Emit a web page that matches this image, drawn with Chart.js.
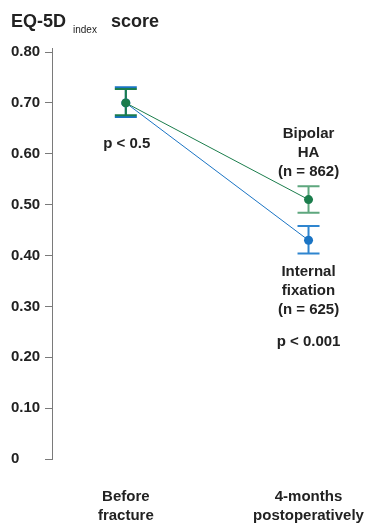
<!DOCTYPE html>
<html>
<head>
<meta charset="utf-8">
<script src="https://cdn.jsdelivr.net/npm/chart.js@4.4.1/dist/chart.umd.min.js"></script>
<style>
  html, body { margin: 0; padding: 0; background: #fff; }
  #wrap { position: relative; width: 383px; height: 525px; }
</style>
</head>
<body>
<div id="wrap"><canvas id="eqChart" width="383" height="525"></canvas></div>
<script>
// time points (x = 0, 1)
const timeLabels = [['Before', 'fracture'], ['4-months', 'postoperatively']];
const timeX = [0, 1];

// mean EQ-5D index, with error bar bounds
const bipolarMean = [0.70, 0.51];
const bipolarLow = [0.676, 0.484];
const bipolarHigh = [0.7275, 0.536];

const fixationMean = [0.70, 0.43];
const fixationLow = [0.6725, 0.404];
const fixationHigh = [0.731, 0.458];

const yTicks = [0, 0.1, 0.2, 0.3, 0.4, 0.5, 0.6, 0.7, 0.8];

const GREEN = '#1b7d4c';
const GREEN_ERR = '#5ea77e';
const BLUE = '#1a74c4';
const BLUE_ERR = '#2f85cf';
const FONT = '"Liberation Sans", Arial, Helvetica, sans-serif';

function toPoints(vals) {
    return vals.map((v, i) => ({ x: timeX[i], y: v }));
}

// error bars drawn under the points
const errorBars = {
    id: 'errorBars',
    beforeDatasetsDraw(chart) {
        const ctx = chart.ctx;
        const xs = chart.scales.x, ys = chart.scales.y;
        const sets = [
            { lo: fixationLow, hi: fixationHigh, color: [BLUE, BLUE_ERR] },
            { lo: bipolarLow, hi: bipolarHigh, color: [GREEN, GREEN_ERR] }
        ];
        ctx.save();
        ctx.lineWidth = 2;
        sets.forEach(s => {
            timeX.forEach((t, i) => {
                const px = xs.getPixelForValue(t);
                const top = ys.getPixelForValue(s.hi[i]);
                const bot = ys.getPixelForValue(s.lo[i]);
                ctx.strokeStyle = s.color[i];
                ctx.beginPath();
                ctx.moveTo(px, top); ctx.lineTo(px, bot);
                ctx.moveTo(px - 11, top); ctx.lineTo(px + 11, top);
                ctx.moveTo(px - 11, bot); ctx.lineTo(px + 11, bot);
                ctx.stroke();
            });
        });
        ctx.restore();
    }
};

// title and text annotations
const notes = {
    id: 'notes',
    afterDraw(chart) {
        const ctx = chart.ctx;
        const xs = chart.scales.x;
        ctx.save();
        ctx.fillStyle = '#222';
        ctx.textBaseline = 'alphabetic';

        // title: EQ-5D(index) score
        ctx.textAlign = 'left';
        ctx.font = 'bold 18px ' + FONT;
        ctx.fillText('EQ-5D', 11, 27);
        ctx.font = '10px ' + FONT;
        ctx.fillText('index', 73, 33);
        ctx.font = 'bold 18px ' + FONT;
        ctx.fillText('score', 111, 27);

        ctx.font = 'bold 15px ' + FONT;
        ctx.textAlign = 'center';
        ctx.textBaseline = 'middle';
        const x0 = xs.getPixelForValue(0);
        const x1 = xs.getPixelForValue(1);
        ctx.fillText('p < 0.5', x0 + 1, 144);

        const top = ['Bipolar', 'HA', '(n = 862)'];
        top.forEach((t, i) => ctx.fillText(t, x1, 134 + i * 19));
        const bot = ['Internal', 'fixation', '(n = 625)'];
        bot.forEach((t, i) => ctx.fillText(t, x1, 272 + i * 19));
        ctx.fillText('p < 0.001', x1, 342);
        ctx.restore();
    }
};

const config = {
    type: 'line',
    data: {
        datasets: [
            {
                label: 'Bipolar HA',
                data: toPoints(bipolarMean),
                borderColor: GREEN,
                backgroundColor: GREEN,
                borderWidth: 1,
                pointRadius: 4.5,
                pointBorderWidth: 0,
                order: 0
            },
            {
                label: 'Internal fixation',
                data: toPoints(fixationMean),
                borderColor: BLUE,
                backgroundColor: BLUE,
                borderWidth: 1,
                pointRadius: 4.5,
                pointBorderWidth: 0,
                order: 1
            }
        ]
    },
    options: {
        responsive: false,
        animation: false,
        layout: { padding: { top: 48, right: 0, left: 11, bottom: 0 } },
        plugins: {
            legend: { display: false },
            tooltip: { enabled: false }
        },
        scales: {
            x: {
                type: 'linear',
                min: -0.404,
                max: 1.383,
                afterBuildTicks: axis => { axis.ticks = timeX.map(v => ({ value: v })); },
                afterFit: axis => { axis.height = 66; },
                // invisible tick marks push the labels down without adding side padding
                grid: {
                    display: true,
                    drawOnChartArea: false,
                    drawTicks: true,
                    tickLength: 28,
                    color: 'rgba(0,0,0,0)'
                },
                border: { display: false },
                ticks: {
                    color: '#222',
                    padding: 0,
                    font: { family: FONT, size: 15, weight: 'bold', lineHeight: 1.3 },
                    callback: (v) => timeLabels[timeX.indexOf(v)]
                }
            },
            y: {
                min: 0,
                max: 0.808,
                afterBuildTicks: axis => { axis.ticks = yTicks.map(v => ({ value: v })); },
                afterFit: axis => { axis.width = 41; },
                grid: {
                    drawOnChartArea: false,
                    drawTicks: true,
                    tickLength: 7,
                    color: '#7a7a7a'
                },
                border: { display: true, color: '#7a7a7a', width: 1 },
                ticks: {
                    color: '#222',
                    crossAlign: 'far',
                    padding: 3,
                    font: { family: FONT, size: 15, weight: 'bold' },
                    callback: v => v === 0 ? '0' : v.toFixed(2)
                }
            }
        }
    },
    plugins: [errorBars, notes]
};

new Chart(document.getElementById('eqChart').getContext('2d'), config);
</script>
</body>
</html>
